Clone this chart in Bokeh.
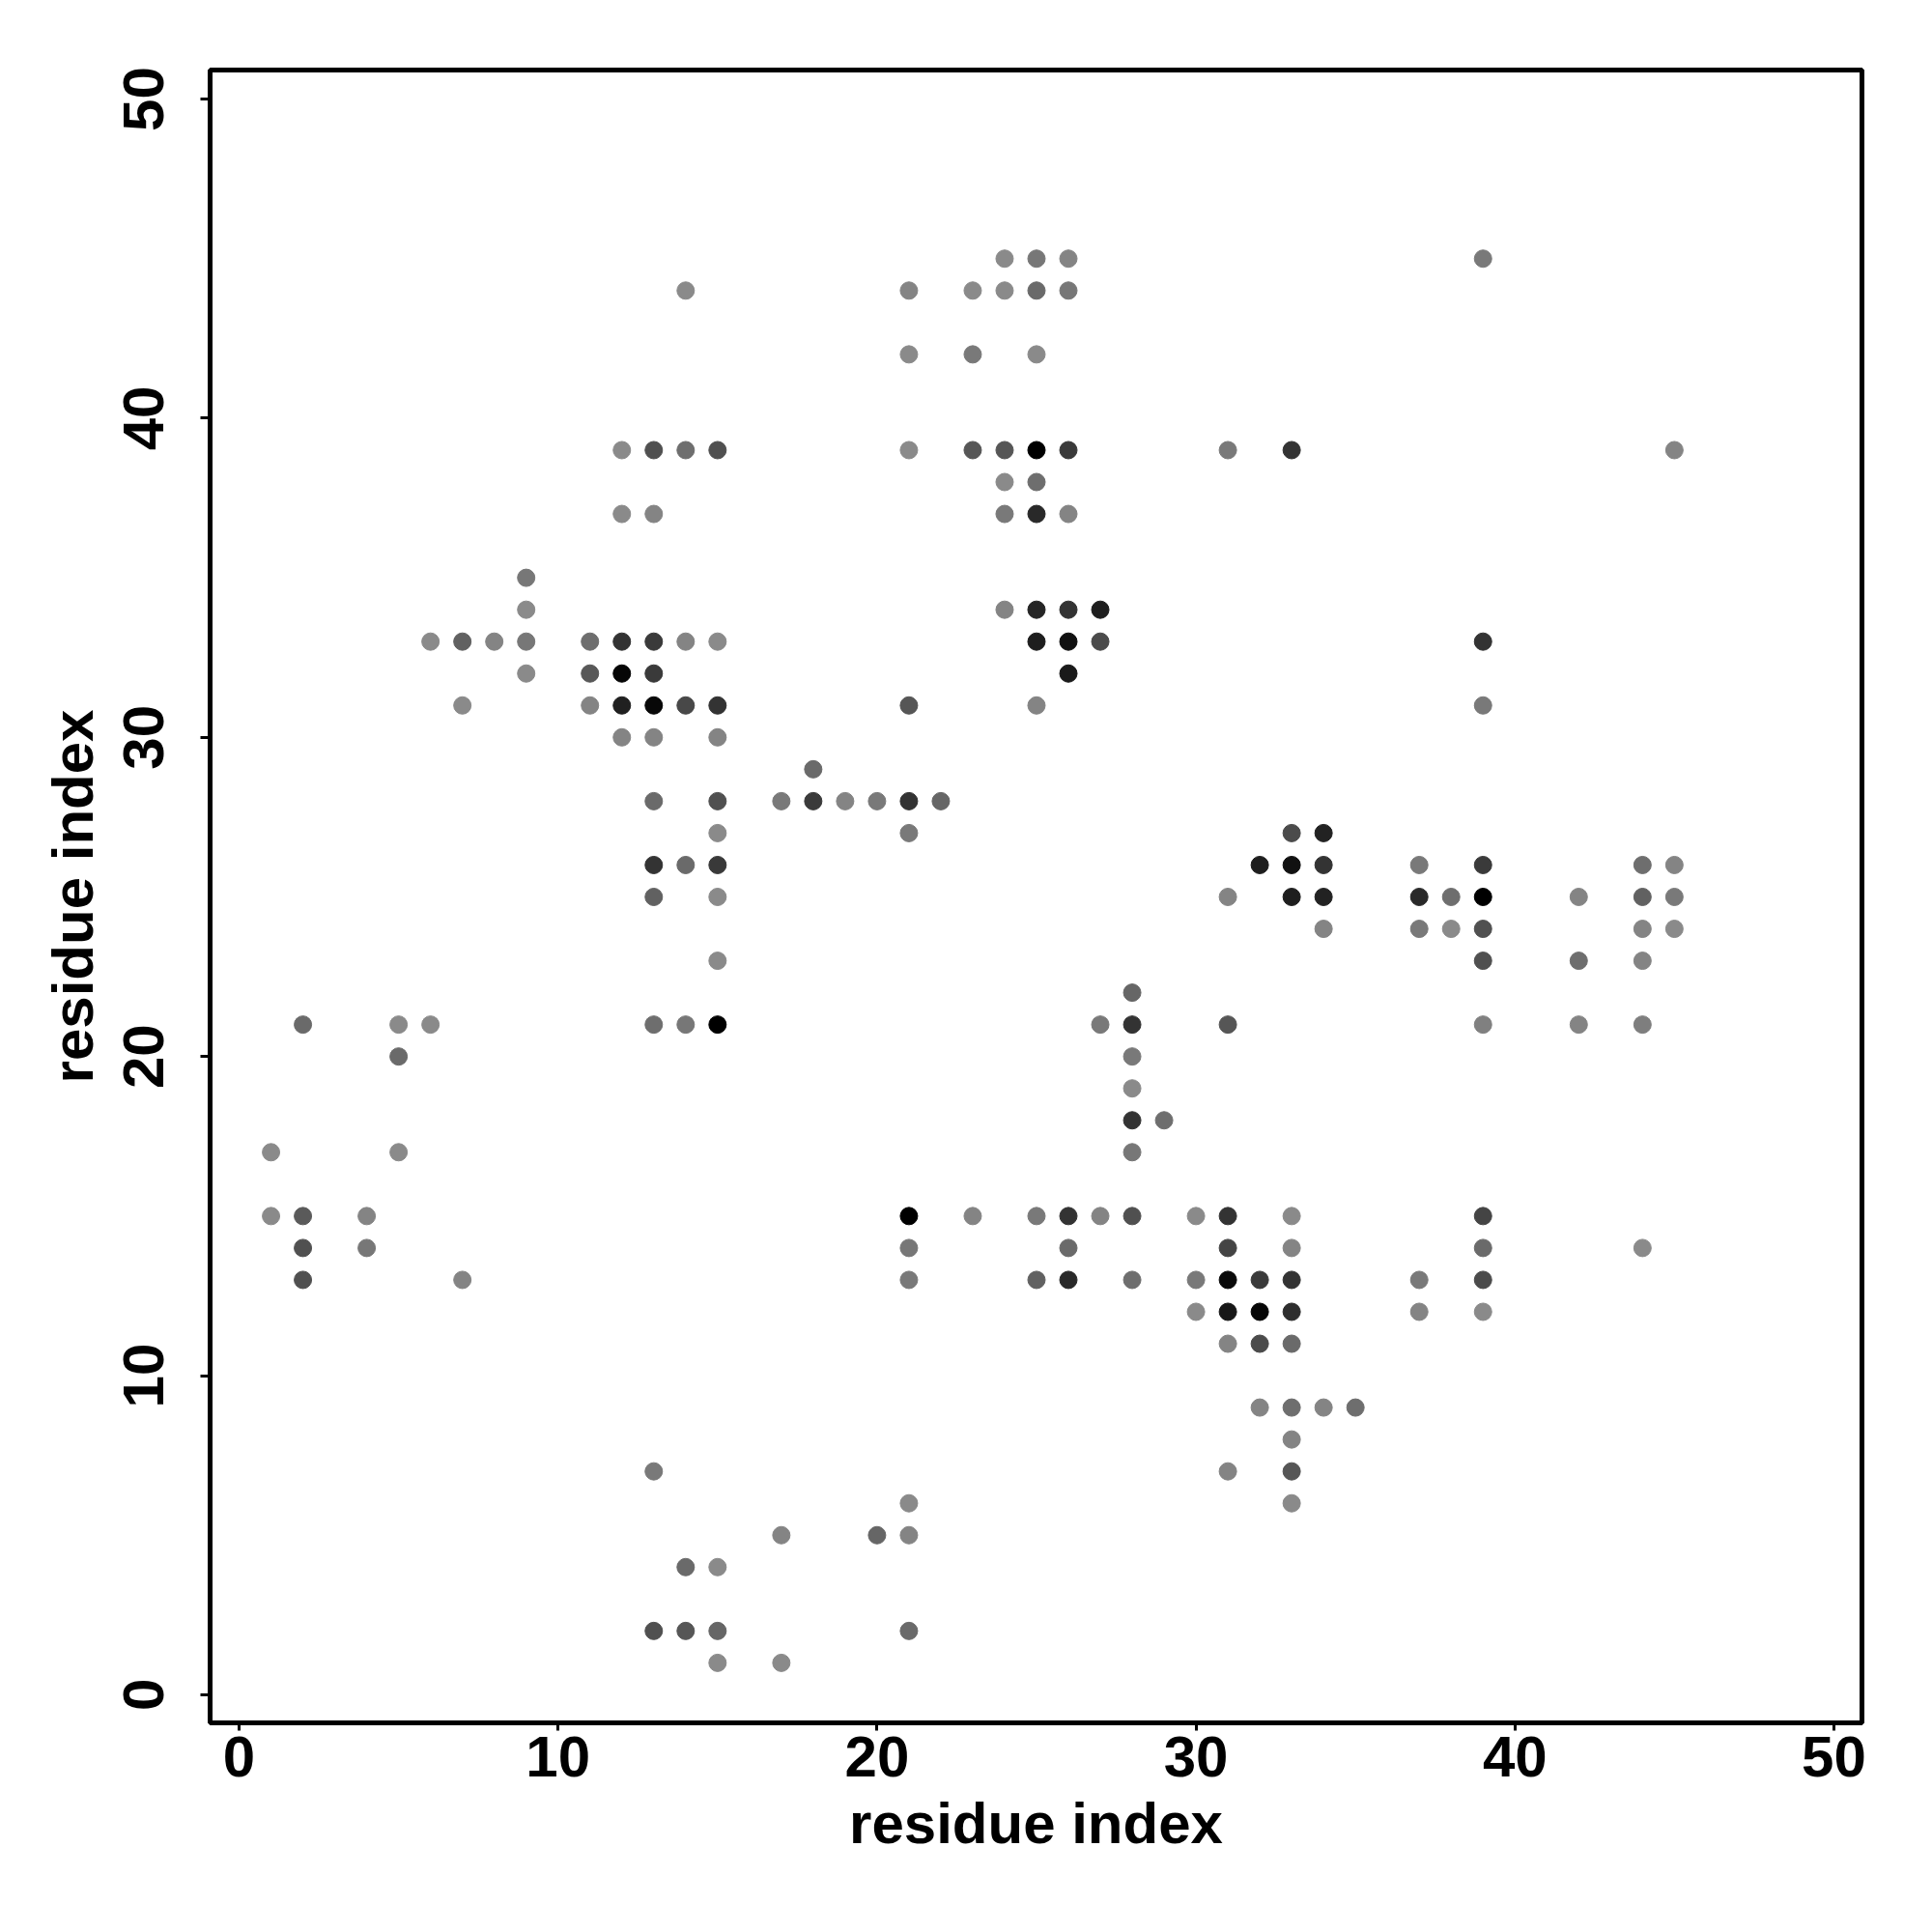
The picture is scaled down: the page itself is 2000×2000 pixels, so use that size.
from bokeh.plotting import figure
from bokeh.models import ColumnDataSource, FixedTicker
from bokeh.embed import file_html
from bokeh.resources import INLINE

# contact map: residue i (x), residue j (y), contact weight (0 = light grey, 1 = black)
res_x = [1, 1,
         2, 2, 2, 2,
         4, 4,
         5, 5, 5,
         6, 6,
         7, 7, 7,
         8,
         9, 9, 9, 9,
         11, 11, 11,
         12, 12, 12, 12, 12, 12,
         13, 13, 13, 13, 13, 13, 13, 13, 13, 13, 13, 13,
         14, 14, 14, 14, 14, 14, 14, 14,
         15, 15, 15, 15, 15, 15, 15, 15, 15, 15, 15, 15, 15,
         17, 17, 17,
         18, 18,
         19,
         20, 20,
         21, 21, 21, 21, 21, 21, 21, 21, 21, 21, 21, 21,
         22,
         23, 23, 23, 23,
         24, 24, 24, 24, 24, 24,
         25, 25, 25, 25, 25, 25, 25, 25, 25, 25, 25,
         26, 26, 26, 26, 26, 26, 26, 26, 26, 26,
         27, 27, 27, 27,
         28, 28, 28, 28, 28, 28, 28, 28,
         29,
         30, 30, 30,
         31, 31, 31, 31, 31, 31, 31, 31, 31,
         32, 32, 32, 32, 32,
         33, 33, 33, 33, 33, 33, 33, 33, 33, 33, 33, 33, 33,
         34, 34, 34, 34, 34,
         35,
         37, 37, 37, 37, 37,
         38, 38,
         39, 39, 39, 39, 39, 39, 39, 39, 39, 39, 39, 39,
         42, 42, 42,
         44, 44, 44, 44, 44, 44,
         45, 45, 45, 45]

res_y = [17, 15,
         21, 15, 14, 13,
         15, 14,
         21, 20, 17,
         33, 21,
         33, 31, 13,
         33,
         35, 34, 33, 32,
         33, 32, 31,
         39, 37, 33, 32, 31, 30,
         39, 37, 33, 32, 31, 30, 28, 26, 25, 21, 7, 2,
         44, 39, 33, 31, 26, 21, 4, 2,
         39, 33, 31, 30, 28, 27, 26, 25, 23, 21, 4, 2, 1,
         28, 5, 1,
         29, 28,
         28,
         28, 5,
         44, 42, 39, 31, 28, 27, 15, 14, 13, 6, 5, 2,
         28,
         44, 42, 39, 15,
         45, 44, 39, 38, 37, 34,
         45, 44, 42, 39, 38, 37, 34, 33, 31, 15, 13,
         45, 44, 39, 37, 34, 33, 32, 15, 14, 13,
         34, 33, 21, 15,
         22, 21, 20, 19, 18, 17, 15, 13,
         18,
         15, 13, 12,
         39, 25, 21, 15, 14, 13, 12, 11, 7,
         26, 13, 12, 11, 9,
         39, 27, 26, 25, 15, 14, 13, 12, 11, 9, 8, 7, 6,
         27, 26, 25, 24, 9,
         9,
         26, 25, 24, 13, 12,
         25, 24,
         45, 33, 31, 26, 25, 24, 23, 21, 15, 14, 13, 12,
         25, 23, 21,
         26, 25, 24, 23, 21, 14,
         39, 26, 25, 24]

weight = [0.0, 0.0,
          0.23, 0.35, 0.42, 0.42,
          0.04, 0.14,
          0.0, 0.23, 0.0,
          0.0, 0.0,
          0.3, 0.0, 0.04,
          0.04,
          0.14, 0.0, 0.14, 0.0,
          0.2, 0.36, 0.04,
          0.0, 0.0, 0.63, 0.96, 0.77, 0.04,
          0.42, 0.04, 0.58, 0.58, 0.94, 0.04, 0.23, 0.63, 0.3, 0.2, 0.12, 0.42,
          0.0, 0.2, 0.04, 0.48, 0.23, 0.14, 0.23, 0.38,
          0.42, 0.0, 0.63, 0.04, 0.42, 0.0, 0.59, 0.0, 0.0, 1.0, 0.0, 0.26, 0.0,
          0.12, 0.04, 0.0,
          0.23, 0.58,
          0.04,
          0.12, 0.26,
          0.04, 0.0, 0.0, 0.38, 0.63, 0.12, 1.0, 0.14, 0.12, 0.0, 0.04, 0.23,
          0.26,
          0.0, 0.12, 0.38, 0.04,
          0.0, 0.0, 0.38, 0.0, 0.12, 0.04,
          0.14, 0.23, 0.0, 1.0, 0.2, 0.7, 0.73, 0.78, 0.04, 0.12, 0.3,
          0.04, 0.14, 0.58, 0.04, 0.63, 0.88, 0.81, 0.63, 0.23, 0.7,
          0.78, 0.46, 0.12, 0.04,
          0.26, 0.63, 0.12, 0.0, 0.63, 0.14, 0.42, 0.2,
          0.2,
          0.0, 0.12, 0.0,
          0.12, 0.04, 0.38, 0.63, 0.51, 0.93, 0.83, 0.04, 0.04,
          0.78, 0.58, 0.96, 0.46, 0.04,
          0.63, 0.46, 0.88, 0.78, 0.0, 0.04, 0.63, 0.67, 0.23, 0.2, 0.04, 0.38, 0.0,
          0.75, 0.63, 0.75, 0.04, 0.04,
          0.2,
          0.12, 0.7, 0.12, 0.12, 0.04,
          0.2, 0.0,
          0.12, 0.63, 0.12, 0.58, 1.0, 0.42, 0.42, 0.07, 0.51, 0.23, 0.46, 0.0,
          0.04, 0.2, 0.04,
          0.2, 0.3, 0.04, 0.04, 0.09, 0.0,
          0.04, 0.04, 0.12, 0.0]

tick_values = [0, 10, 20, 30, 40, 50]
axis_title = "residue index"


def grey(w):
    g = int(round(138 * (1.0 - w)))
    return "#%02x%02x%02x" % (g, g, g)


colors = [grey(w) for w in weight]
src = ColumnDataSource(data=dict(x=res_x, y=res_y, c=colors))

p = figure(width=1970, height=1970, output_backend="svg", toolbar_location=None,
           x_range=(-0.91, 50.88), y_range=(-0.88, 50.91),
           min_border_left=217, min_border_top=72,
           min_border_right=43, min_border_bottom=187)

p.scatter("x", "y", source=src, size=18, fill_color="c", line_color="c", line_width=1)

p.xgrid.visible = False
p.ygrid.visible = False
p.background_fill_color = "white"
p.border_fill_color = "white"
p.outline_line_color = "black"
p.outline_line_width = 5

for ax in (p.xaxis[0], p.yaxis[0]):
    ax.ticker = FixedTicker(ticks=tick_values)
    ax.axis_line_color = None
    ax.major_tick_in = 0
    ax.major_tick_out = 10
    ax.major_tick_line_width = 3
    ax.major_tick_line_color = "black"
    ax.minor_tick_line_color = None
    ax.major_label_text_font = "Liberation Sans"
    ax.major_label_text_font_style = "bold"
    ax.major_label_text_font_size = "60px"
    ax.major_label_text_color = "black"
    ax.axis_label = axis_title
    ax.axis_label_text_font = "Liberation Sans"
    ax.axis_label_text_font_style = "bold"
    ax.axis_label_text_font_size = "60px"
    ax.axis_label_text_color = "black"

p.xaxis[0].major_tick_out = 8
p.xaxis[0].major_label_standoff = 6
p.xaxis[0].axis_label_standoff = 12
p.yaxis[0].major_label_orientation = "parallel"
p.yaxis[0].major_label_standoff = 38
p.yaxis[0].axis_label_standoff = 17

open("out.html", "w").write(file_html(p, INLINE))
